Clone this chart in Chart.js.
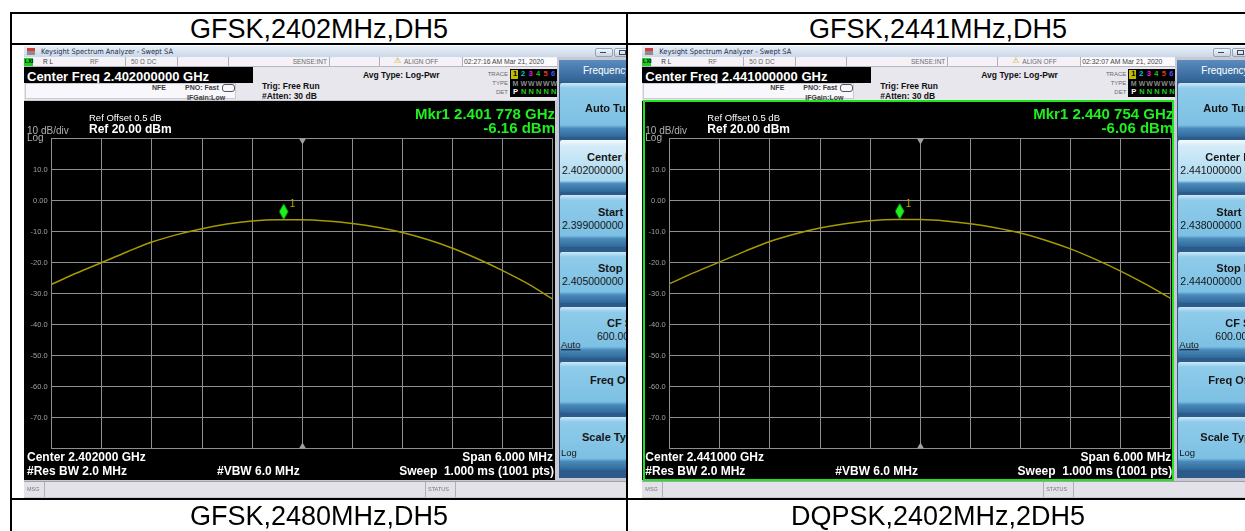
<!DOCTYPE html>
<html><head><meta charset="utf-8">
<script src="https://cdn.jsdelivr.net/npm/chart.js@4.4.1/dist/chart.umd.min.js"></script>
<style>
html,body{margin:0;padding:0;background:#fff;}
#page{position:relative;width:1245px;height:531px;overflow:hidden;background:#fff;font-family:"Liberation Sans",Arial,sans-serif;}
.hdr{position:absolute;text-align:center;font-size:27px;line-height:27px;color:#000;white-space:nowrap;}
</style></head>
<body><div id="page"></div>
<script>
// ---------------- data ----------------
const cellTitles = ['GFSK,2402MHz,DH5','GFSK,2441MHz,DH5','GFSK,2480MHz,DH5','DQPSK,2402MHz,2DH5'];
const freqA  = [2399.0,2399.3,2399.6,2399.9,2400.2,2400.5,2400.8,2401.1,2401.4,2401.7,2402.0,2402.3,2402.6,2402.9,2403.2,2403.5,2403.8,2404.1,2404.4,2404.7,2405.0];
const levelA = [-27.0,-23.4,-20.0,-16.6,-13.4,-11.0,-9.1,-7.6,-6.6,-6.2,-6.2,-6.6,-7.4,-8.6,-10.3,-12.6,-15.4,-18.8,-22.6,-26.8,-31.8];
const freqB  = [2438.0,2438.3,2438.6,2438.9,2439.2,2439.5,2439.8,2440.1,2440.4,2440.7,2441.0,2441.3,2441.6,2441.9,2442.2,2442.5,2442.8,2443.1,2443.4,2443.7,2444.0];
const levelB = [-26.8,-23.2,-19.8,-16.4,-13.2,-10.8,-8.9,-7.5,-6.5,-6.1,-6.15,-6.6,-7.5,-8.8,-10.5,-12.8,-15.6,-19.0,-22.8,-27.0,-31.6];
const xTicksA = [2399.0,2399.6,2400.2,2400.8,2401.4,2402.0,2402.6,2403.2,2403.8,2404.4,2405.0];
const xTicksB = [2438.0,2438.6,2439.2,2439.8,2440.4,2441.0,2441.6,2442.2,2442.8,2443.4,2444.0];
const yTicks = [20,10,0,-10,-20,-30,-40,-50,-60,-70,-80];
const yTickLabels = ['','10.0','0.00','-10.0','-20.0','-30.0','-40.0','-50.0','-60.0','-70.0',''];
const markerFreq  = [2401.778, 2440.754];
const markerLevel = [-6.16, -6.06];
const centerFreq  = [2402.0, 2441.0];

// ---------------- helpers ----------------
const page = document.getElementById('page');
function S(p, css){ const d=document.createElement('div'); d.style.cssText='position:absolute;'+css; p.appendChild(d); return d; }
function T(p, x, yc, text, css, right){
  const d=S(p,`left:${x}px;top:${yc}px;white-space:nowrap;line-height:1;transform:translate(${right?'-100%':'0'},-50%);`+(css||''));
  d.textContent=text; return d;
}

// top partial text (cut off by the picture edge)
T(page,118,-6.5,'Test Result','font-size:15px;font-weight:bold;color:#222;');

// diamond marker image
function diamondImg(){
  const c=document.createElement('canvas'); c.width=10; c.height=34;
  const g=c.getContext('2d'); g.fillStyle='#1ef01e';
  g.beginPath(); g.moveTo(5,1); g.lineTo(9.5,9); g.lineTo(5,17); g.lineTo(0.5,9); g.closePath(); g.fill();
  return c;
}
const decor = {
  id:'decor',
  afterDatasetsDraw(chart, args, o){
    const {ctx, chartArea:a, scales:{x,y}} = chart;
    const cx = Math.round(x.getPixelForValue(o.center))+0.5;
    ctx.save(); ctx.fillStyle='#a0a0a0';
    ctx.beginPath(); ctx.moveTo(cx-3.5,a.top); ctx.lineTo(cx+3.5,a.top); ctx.lineTo(cx,a.top+6); ctx.closePath(); ctx.fill();
    ctx.beginPath(); ctx.moveTo(cx-3.5,a.bottom); ctx.lineTo(cx+3.5,a.bottom); ctx.lineTo(cx,a.bottom-6); ctx.closePath(); ctx.fill();
    const mx=x.getPixelForValue(o.mf), my=y.getPixelForValue(o.ml);
    ctx.fillStyle='#b8a800'; ctx.font='10px "Liberation Sans"'; ctx.textBaseline='middle';
    ctx.fillText('1', mx+6, my-15);
    ctx.restore();
  }
};

function buildShot(o){
  const sh=S(page,`left:${o.left}px;top:46px;width:${o.w}px;height:452px;overflow:hidden;background:#cac9d1;`);
  // title bar
  S(sh,'left:0;top:0;width:700px;height:11px;background:linear-gradient(#e8eff8,#cbd8e8);');
  S(sh,'left:3px;top:2px;width:8px;height:7px;background:linear-gradient(#d43c3c 0 45%,#8c8c8c 45% 100%);');
  T(sh,17,5.5,'Keysight Spectrum Analyzer - Swept SA','font-size:7.4px;color:#1d2f4d;font-family:"DejaVu Sans Condensed","DejaVu Sans";');
  S(sh,'left:571px;top:1.5px;width:16px;height:7px;border:1px solid #8fa3bb;border-radius:2px;background:linear-gradient(#f3f6fa,#c8d4e2);');
  S(sh,'left:576px;top:5.5px;width:6px;height:1.5px;background:#445;');
  S(sh,'left:590px;top:1.5px;width:16px;height:7px;border:1px solid #8fa3bb;border-radius:2px;background:linear-gradient(#f3f6fa,#c8d4e2);');
  S(sh,'left:595px;top:3.5px;width:5px;height:3px;border:1px solid #445;');
  // status row
  S(sh,'left:0;top:11px;width:533px;height:9px;background:#f4f2f7;border-bottom:1px solid #b7b5bf;');
  S(sh,'left:439px;top:11.5px;width:94px;height:8px;background:#fbfbfd;');
  S(sh,'left:0;top:11.5px;width:9px;height:8px;background:#22cc22;');
  T(sh,0.8,15.7,'LXI','font-size:5.5px;font-weight:bold;color:#000;');
  [101,153,204,305,355,438].forEach(x=>S(sh,`left:${x}px;top:11px;width:1px;height:9px;background:#b0aeb8;`));
  const st='font-size:6.5px;color:#6a6a6a;';
  T(sh,19,15.5,'R L','font-size:6.5px;color:#333;');
  T(sh,66,15.5,'RF',st);
  T(sh,107,15.5,'50 Ω',st);
  T(sh,123,15.5,'DC',st);
  T(sh,303,15.5,'SENSE:INT',st,true);
  T(sh,370,15.3,'⚠','font-size:8px;color:#c9a400;font-family:"DejaVu Sans";');
  T(sh,380,15.5,'ALIGN OFF',st);
  T(sh,440,15.5,o.time,'font-size:6.8px;color:#444;');
  // info area
  S(sh,'left:0;top:21px;width:533px;height:33px;background:#e9e7ee;');
  S(sh,'left:0;top:21px;width:229px;height:16px;background:#000;');
  T(sh,3,29.5,'Center Freq '+o.cf+' GHz','font-size:13px;font-weight:bold;color:#fff;');
  S(sh,'left:1px;top:37px;width:211px;height:16px;background:#f8f7fb;border:1px solid #cbc9d2;box-sizing:border-box;');
  const ib='font-size:7px;font-weight:bold;color:#3c3c3c;';
  T(sh,128,41,'NFE',ib);
  T(sh,161,41,'PNO: Fast',ib);
  S(sh,'left:198px;top:37.5px;width:11px;height:6px;border:1px solid #555;border-radius:3px;');
  T(sh,163,51,'IFGain:Low',ib);
  const bb='font-size:8.5px;font-weight:bold;color:#111;';
  T(sh,238,40,'Trig: Free Run',bb);
  T(sh,238,50,'#Atten: 30 dB',bb);
  T(sh,339,29,'Avg Type: Log-Pwr',bb);
  const tl='font-size:6px;color:#6a6a6a;';
  T(sh,484,28,'TRACE',tl,true); T(sh,484,37,'TYPE',tl,true); T(sh,484,46,'DET',tl,true);
  S(sh,'left:486px;top:23px;width:47px;height:28px;background:#000;');
  S(sh,'left:487px;top:23.5px;width:7px;height:9px;background:#c2bc00;');
  const tx=[489,497,504.5,512,519.5,527];
  const tc=['#000','#00c8d0','#e020e0','#22c022','#e03838','#5050ff'];
  tx.forEach((x,i)=>T(sh,x,28,String(i+1),`font-size:7.5px;font-weight:bold;color:${tc[i]};`));
  tx.forEach((x,i)=>T(sh,x-0.5,37,i?'W':'M',`font-size:7px;font-weight:bold;color:#8a8a8a;`));
  tx.forEach((x,i)=>T(sh,x,46,i?'N':'P',`font-size:7.5px;font-weight:bold;color:${i?'#22cc22':'#fff'};`));
  // display
  const disp=S(sh,'left:0;top:55px;width:531px;height:379px;background:#000;');
  const cv=document.createElement('canvas'); cv.width=531; cv.height=379;
  cv.style.cssText='position:absolute;left:0;top:0;'; disp.appendChild(cv);
  if(o.green) S(sh,'left:1px;top:54px;width:531px;height:381px;border:2px solid #1ee61e;box-sizing:border-box;');
  const gr='#b0b0b0';
  T(sh,531,66.5,'Mkr1 '+o.mkrF+' GHz','font-size:15px;font-weight:bold;color:#1ef01e;',true);
  T(sh,531,81,o.mkrL+' dBm','font-size:15px;font-weight:bold;color:#1ef01e;',true);
  T(sh,65,72,'Ref Offset 0.5 dB','font-size:9.5px;color:#fff;');
  T(sh,65,83,'Ref 20.00 dBm','font-size:12px;font-weight:bold;color:#fff;');
  T(sh,3,84.5,'10 dB/div','font-size:10px;color:'+gr+';');
  T(sh,3,91.5,'Log','font-size:10px;color:'+gr+';');
  const wb='font-size:12px;font-weight:bold;color:#fff;';
  T(sh,3,411,'Center '+o.center+' GHz',wb);
  T(sh,3,425,'#Res BW 2.0 MHz',wb);
  T(sh,193,425,'#VBW 6.0 MHz',wb);
  T(sh,529,411,'Span 6.000 MHz',wb,true);
  T(sh,530,425,'Sweep  1.000 ms (1001 pts)','font-size:12px;font-weight:bold;color:#fff;white-space:pre;',true);
  // softkey panel
  S(sh,'left:535px;top:14px;width:100px;height:418px;background:#2c5b8b;');
  S(sh,'left:535px;top:14px;width:100px;height:22px;background:linear-gradient(#5a8cc0,#2f6193);');
  T(sh,559,25,'Frequency','font-size:10px;color:#fff;');
  const keys=[[37,91,false],[94,146,true],[149,201,false],[206,257,false],[261,312,false],[316,367,false],[371,424,false]];
  keys.forEach(([a,b,sel])=>{
    const bg= sel ? 'linear-gradient(#f4fafd 0px,#d4ecf8 6px,#aad8f0 78%,#4a8abb 84%,#2f6898 100%)'
                  : 'linear-gradient(#cfe9f7 0px,#8fcbea 5px,#7cc0e3 78%,#4a8abb 84%,#2f6898 100%)';
    S(sh,`left:536px;top:${a}px;width:100px;height:${b-a}px;border-radius:2px;background:${bg};`);
  });
  const kt='font-size:11px;font-weight:bold;color:#161616;';
  const kv='font-size:10.5px;color:#161616;';
  T(sh,561,62,'Auto Tune',kt);
  T(sh,563,111,'Center Freq',kt); T(sh,538,124,o.cf+' GHz',kv);
  T(sh,574,166,'Start Freq',kt); T(sh,538,179,o.start+' GHz',kv);
  T(sh,574,222,'Stop Freq',kt); T(sh,538,235,o.stop+' GHz',kv);
  T(sh,583,277,'CF Step',kt); T(sh,573,290,'600.000 kHz',kv);
  T(sh,537,299,'Auto','font-size:9.5px;color:#161616;text-decoration:underline;');
  T(sh,566,334,'Freq Offset',kt);
  T(sh,558,391,'Scale Type',kt); T(sh,537,407,'Log','font-size:9.5px;color:#161616;');
  // msg bar
  S(sh,'left:0;top:435px;width:700px;height:16px;background:#e4e2e9;border-top:1px solid #a2a0aa;box-sizing:border-box;');
  [20,401,431].forEach(x=>S(sh,`left:${x}px;top:436px;width:1px;height:15px;background:#b0aeb8;`));
  T(sh,3,443.5,'MSG','font-size:5.5px;color:#777;');
  T(sh,404,443.5,'STATUS','font-size:5.5px;color:#777;');

  new Chart(cv,{
    type:'line',
    data:{datasets:[
      {data:o.freq.map((f,i)=>({x:f,y:o.level[i]})), borderColor:'#a59b00', borderWidth:1.5,
       pointRadius:0, cubicInterpolationMode:'monotone', fill:false},
      {data:[{x:o.mf,y:o.ml}], showLine:false, pointStyle:diamondImg(), pointRadius:8}
    ]},
    options:{
      responsive:false, animation:false, events:[],
      layout:{autoPadding:false, padding:{left:0,right:2.3,top:37.5,bottom:31.5}},
      plugins:{legend:{display:false}, tooltip:{enabled:false},
        decor:{center:o.c, mf:o.mf, ml:o.ml}},
      scales:{
        x:{type:'linear', min:o.xTicks[0], max:o.xTicks[o.xTicks.length-1],
           afterBuildTicks:s=>{s.ticks=o.xTicks.map(v=>({value:v}));},
           afterFit:s=>{s.height=0;},
           ticks:{display:false}, grid:{color:'#8e8e8e', lineWidth:1, drawTicks:false},
           border:{color:'#8e8e8e'}},
        y:{min:-80, max:20,
           afterBuildTicks:s=>{s.ticks=yTicks.map(v=>({value:v}));},
           afterFit:s=>{s.width=27.7;},
           ticks:{color:'#a0a0a0', font:{size:7.5, family:'"Liberation Sans"'}, padding:4,
                  callback:(v,i)=>yTickLabels[i]},
           grid:{color:'#8e8e8e', lineWidth:1, drawTicks:false}, border:{color:'#8e8e8e'}}
      }
    },
    plugins:[decor]
  });
}

buildShot({left:24, w:602, cf:'2.402000000', mkrF:'2.401 778', mkrL:'-6.16', center:'2.402000',
  start:'2.399000000', stop:'2.405000000', time:'02:27:16 AM Mar 21, 2020', green:false,
  freq:freqA, level:levelA, xTicks:xTicksA, mf:markerFreq[0], ml:markerLevel[0], c:centerFreq[0]});
buildShot({left:642.3, w:603, cf:'2.441000000', mkrF:'2.440 754', mkrL:'-6.06', center:'2.441000',
  start:'2.438000000', stop:'2.444000000', time:'02:32:07 AM Mar 21, 2020', green:true,
  freq:freqB, level:levelB, xTicks:xTicksB, mf:markerFreq[1], ml:markerLevel[1], c:centerFreq[1]});

// table lines
S(page,'left:10px;top:12px;width:1240px;height:2px;background:#000;');
S(page,'left:10px;top:12px;width:2px;height:519px;background:#000;');
S(page,'left:12px;top:43px;width:1240px;height:1.5px;background:#000;');
S(page,'left:626px;top:12px;width:2px;height:519px;background:#000;');
S(page,'left:12px;top:498px;width:1240px;height:2px;background:#000;');

// cell titles
function H(text,left,width,top){ const d=S(page,`left:${left}px;top:${top}px;width:${width}px;`); d.className='hdr'; d.style.position='absolute'; d.textContent=text; }
H(cellTitles[0],12,614,15.5);
H(cellTitles[1],628,620,15.5);
H(cellTitles[2],12,614,503);
H(cellTitles[3],628,620,503);
</script>
</body></html>
